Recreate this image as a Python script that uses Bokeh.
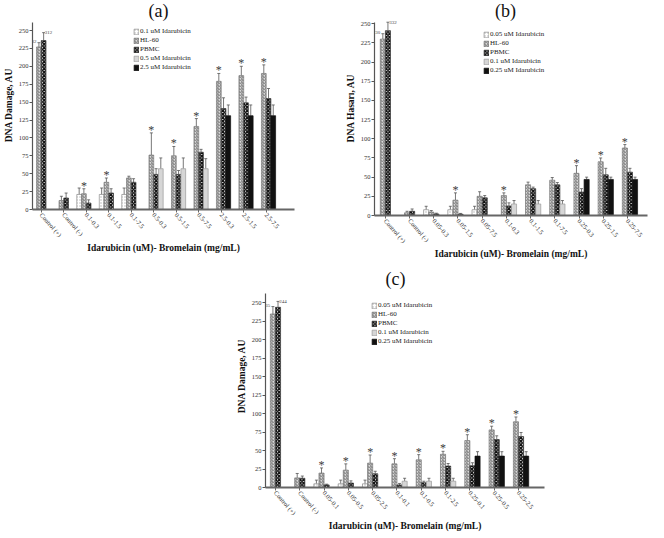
from bokeh.plotting import figure
from bokeh.models import (Range1d, FixedTicker, Whisker, TeeHead, ColumnDataSource,
                          Label, Spacer)
from bokeh.layouts import column, row
from bokeh.core.properties import value
from bokeh.embed import file_html
from bokeh.resources import INLINE

FONT = "Liberation Serif"

# ---------------- data ----------------
A_categories = ["Control (+)", "Control (-)", "0.1-0.3", "0.1-1.5", "0.1-7.5", "0.5-0.3",
                "0.5-1.5", "0.5-7.5", "2.5-0.3", "2.5-1.5", "2.5-7.5"]
A_series = ["0.1 uM Idarubicin", "HL-60", "PBMC", "0.5 uM Idarubicin", "2.5 uM Idarubicin"]
A_low = [None, None, 21, 21, 21, None, None, None, None, None, None]
A_low_err = [None, None, 9, 9, 9, None, None, None, None, None, None]
A_hl60 = [227, 12.5, 22, 38, 44, 76, 75, 116, 179, 187, 190]
A_hl60_err = [6, 6, 7, 6, 2.5, 31, 13, 11, 11, 13, 12]
A_pbmc = [236, 16, 9, 23, 38, 49, 49, 80, 141, 149, 155]
A_pbmc_err = [11, 7, 4.5, 6, 5, 8, 5.5, 4, 15, 8, 14]
A_mid = [None, None, None, None, None, 57, 57, 57, None, None, None]
A_mid_err = [None, None, None, None, None, 15, 15, 14, None, None, None]
A_high = [None, None, None, None, None, None, None, None, 131, 131, 131]
A_high_err = [None, None, None, None, None, None, None, None, 15, 15, 15]
A_star = [0, 0, 1, 1, 0, 1, 1, 1, 1, 1, 1]
A_ctrl_labels = ["232", "312"]

B_categories = ["Control (+)", "Control (-)", "0.05-0.3", "0.05-1.5", "0.05-7.5", "0.1-0.3",
                "0.1-1.5", "0.1-7.5", "0.25-0.3", "0.25-1.5", "0.25-7.5"]
B_series = ["0.05 uM Idarubicin", "HL-60", "PBMC", "0.1 uM Idarubicin", "0.25 uM Idarubicin"]
B_low = [None, None, 7.5, 7.5, 7.5, None, None, None, None, None, None]
B_low_err = [None, None, 4.5, 4.5, 4.5, None, None, None, None, None, None]
B_hl60 = [230, 3.5, 4.5, 20, 25, 26, 40, 46, 55, 70, 88]
B_hl60_err = [7, 2, 2, 9.5, 6, 3.5, 3.5, 3.5, 10, 5, 4.5]
B_pbmc = [241, 5.5, 2, 1.7, 23, 12.5, 35, 40, 30.5, 53, 56.5]
B_pbmc_err = [11, 3, 1, 1, 3, 4, 2, 3, 4.5, 8.5, 5]
B_mid = [None, None, None, None, None, 15, 15, 15, None, None, None]
B_mid_err = [None, None, None, None, None, 4.5, 4.5, 4.5, None, None, None]
B_high = [None, None, None, None, None, None, None, None, 47, 47, 47]
B_high_err = [None, None, None, None, None, None, None, None, 3, 3, 3]
B_star = [0, 0, 0, 1, 0, 1, 0, 0, 1, 1, 1]
B_ctrl_labels = ["230", "332"]

C_categories = ["Control (+)", "Control (-)", "0.05-0.1", "0.05-0.5", "0.05-2.5", "0.1-0.1",
                "0.1-0.5", "0.1-2.5", "0.25-0.1", "0.25-0.5", "0.25-2.5"]
C_series = ["0.05 uM Idarubicin", "HL-60", "PBMC", "0.1 uM Idarubicin", "0.25 uM Idarubicin"]
C_low = [None, None, 5, 5, 5, None, None, None, None, None, None]
C_low_err = [None, None, 5, 5, 5, None, None, None, None, None, None]
C_hl60 = [235, 13, 19.5, 23.5, 33, 32, 37.5, 45, 63.5, 78, 89]
C_hl60_err = [10, 6, 7, 8.5, 11, 7, 7, 4, 8, 5, 6.5]
C_pbmc = [244, 12.5, 3.5, 6, 18.5, 3.5, 6.5, 29, 29.5, 65, 69]
C_pbmc_err = [8, 3, 1, 3, 3.5, 2, 2, 3.5, 4, 5, 5.5]
C_mid = [None, None, None, None, None, 8.5, 8.5, 8.5, None, None, None]
C_mid_err = [None, None, None, None, None, 4, 4, 4, None, None, None]
C_high = [None, None, None, None, None, None, None, None, 42.5, 42.5, 42.5]
C_high_err = [None, None, None, None, None, None, None, None, 6, 6, 6]
C_star = [0, 0, 1, 1, 1, 1, 1, 1, 1, 1, 1]
C_ctrl_labels = ["235", "244"]

Y_TICKS = [0, 25, 50, 75, 100, 125, 150, 175, 200, 225, 250]
X_TITLE = "Idarubicin (uM)- Bromelain (mg/mL)"

# ---------------- styling ----------------
STYLES = [
    dict(fill_color="white", hatch_pattern="dot", hatch_color="#b0b0b0", hatch_scale=3,
         hatch_weight=1, line_color="#8a8a8a"),
    dict(fill_color="#d8d8d8", hatch_pattern="right_diagonal_line", hatch_color="#7a7a7a",
         hatch_scale=3, hatch_weight=1, line_color="#777777"),
    dict(fill_color="white", hatch_pattern="diagonal_cross", hatch_color="#111111",
         hatch_scale=3.5, hatch_weight=1.6, line_color="#333333"),
    dict(fill_color="#d6d6d6", line_color="#9a9a9a"),
    dict(fill_color="#111111", line_color="#111111"),
]
SLOT = [-1.5, -0.5, 0.5, 1.5, 1.5]
BW = 0.21


def panel(tag, ylabel, cats, names, series, star, ctrl_labels, w, h, border, xr, yr,
          ybound, title_pos, legend_loc):
    p = figure(width=w, height=h, output_backend="svg", toolbar_location=None,
               x_range=Range1d(*xr), y_range=Range1d(0, yr))
    p.min_border = 0
    p.min_border_left, p.min_border_right, p.min_border_top, p.min_border_bottom = border
    p.outline_line_color = None
    p.xgrid.visible = False
    p.ygrid.visible = False
    p.background_fill_color = "white"
    p.border_fill_color = "white"

    for k, ((vals, errs), name, st) in enumerate(zip(series, names, STYLES)):
        xs, tops, his = [], [], []
        for i, (v, e) in enumerate(zip(vals, errs)):
            if v is None:
                continue
            xs.append(i + SLOT[k] * BW)
            tops.append(v)
            his.append(v + e)
        src = ColumnDataSource(dict(x=xs, top=tops, hi=his))
        p.vbar(x="x", top="top", width=BW, source=src, line_width=0.7,
               legend_label=name, **st)
        p.add_layout(Whisker(source=src, base="x", lower="top", upper="hi",
                             dimension="height", line_color="#555555", line_width=0.8,
                             upper_head=TeeHead(size=3, line_color="#555555", line_width=0.8),
                             lower_head=None))

    hl, hle = series[1]
    sx = [i + SLOT[1] * BW for i, s in enumerate(star) if s]
    sy = [hl[i] + hle[i] for i, s in enumerate(star) if s]
    p.text(x=sx, y=sy, text=value("*"), text_font=value(FONT), text_font_size="12px",
           text_color="#3a3a3a", text_align="center", text_baseline="bottom", y_offset=4)

    pb, pbe = series[2]
    p.text(x=[0 + SLOT[1] * BW - BW / 2], y=[hl[0] + hle[0]], text=[ctrl_labels[0]],
           text_font=value(FONT), text_font_size="5px", text_color="#444444",
           text_align="right", text_baseline="bottom")
    p.text(x=[0 + SLOT[2] * BW + 0.05], y=[pb[0] + pbe[0]], text=[ctrl_labels[1]],
           text_font=value(FONT), text_font_size="5px", text_color="#444444",
           text_align="left", text_baseline="middle")

    # axes
    p.xaxis.ticker = FixedTicker(ticks=list(range(len(cats))))
    p.xaxis.major_label_overrides = {i: c for i, c in enumerate(cats)}
    p.xaxis.major_label_orientation = -0.86
    p.xaxis.axis_line_width = 2
    p.xaxis.axis_line_color = "#666666"
    p.xaxis.major_tick_line_color = "#666666"
    p.xaxis.major_tick_out = 3
    p.xaxis.major_tick_in = 0
    p.xaxis.minor_tick_line_color = None
    p.xaxis.major_label_standoff = 1
    p.xaxis.axis_label = X_TITLE
    p.xaxis.axis_label_standoff = 0

    p.yaxis.ticker = FixedTicker(ticks=Y_TICKS)
    p.yaxis.bounds = (0, ybound)
    p.yaxis.axis_line_color = "#555555"
    p.yaxis.axis_line_width = 1.2
    p.yaxis.major_tick_line_color = "#555555"
    p.yaxis.major_tick_out = 3
    p.yaxis.major_tick_in = 0
    p.yaxis.minor_tick_line_color = None
    p.yaxis.major_label_standoff = 1
    p.yaxis.axis_label = ylabel
    p.yaxis.axis_label_standoff = 2

    for ax in (p.xaxis[0], p.yaxis[0]):
        ax.major_label_text_font = FONT
        ax.major_label_text_font_size = "6.5px"
        ax.major_label_text_color = "#333333"
        ax.axis_label_text_font = FONT
        ax.axis_label_text_font_size = "9.5px"
        ax.axis_label_text_font_style = "bold"
        ax.axis_label_text_color = "#111111"

    p.add_layout(Label(x=title_pos[0], y=title_pos[1], x_units="screen", y_units="screen",
                       text=tag, text_font=FONT, text_font_size="18px", text_color="#111111",
                       text_align="center", text_baseline="middle"))

    lg = p.legend[0]
    lg.location = legend_loc
    lg.label_text_font = FONT
    lg.label_text_font_size = "7px"
    lg.label_text_color = "#222222"
    lg.label_height = 8
    lg.label_width = 10
    lg.label_standoff = 1
    lg.glyph_width = 6
    lg.glyph_height = 7
    lg.spacing = 1
    lg.padding = 0
    lg.margin = 0
    lg.border_line_color = None
    lg.background_fill_alpha = 0
    return p


pa = panel("(a)", "DNA Damage, AU", A_categories, A_series,
           [(A_low, A_low_err), (A_hl60, A_hl60_err), (A_pbmc, A_pbmc_err),
            (A_mid, A_mid_err), (A_high, A_high_err)],
           A_star, A_ctrl_labels, 328, 264, (26, 34, 0, 55), (-0.39, 11.26), 291.9, 261,
           (126, 199), (101, 138))
pb = panel("(b)", "DNA Hasarı, AU", B_categories, B_series,
           [(B_low, B_low_err), (B_hl60, B_hl60_err), (B_pbmc, B_pbmc_err),
            (B_mid, B_mid_err), (B_high, B_high_err)],
           B_star, B_ctrl_labels, 320, 264, (46, 1, 0, 49), (-0.45, 10.83), 280.3, 252,
           (131, 205), (109, 141))
pc = panel("(c)", "DNA Damage, AU", C_categories, C_series,
           [(C_low, C_low_err), (C_hl60, C_hl60_err), (C_pbmc, C_pbmc_err),
            (C_mid, C_mid_err), (C_high, C_high_err)],
           C_star, C_ctrl_labels, 324, 270, (37, 8, 0, 44), (-0.41, 11.07), 302, 263,
           (130, 209), (106, 142))

layout = column(row(pa, column(pb)), row(Spacer(width=228, height=270), pc))
open("out.html", "w").write(file_html(layout, INLINE))
